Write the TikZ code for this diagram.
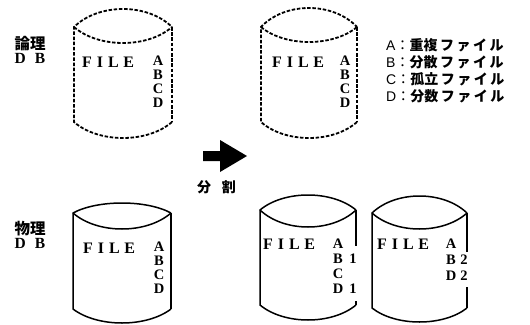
\documentclass[tikz,border=0pt]{standalone}
\usepackage{fontspec}
\setmainfont{Liberation Serif}
\newfontfamily\jpfont{Noto Sans CJK JP}
\newfontfamily\latinsans{Liberation Sans}

% Drum outline without its right-hand side:
% #1 style, #2 left x, #3 right x, #4 lid top y, #5 rim y,
% #6 lid dip y, #7 base rim y, #8 base dip y
\newcommand\drum[8]{%
  \draw[#1] (#3,#7)
     .. controls ({#3-0.25*(#3-#2)},{#7+4/3*(#8-#7)}) and ({#2+0.25*(#3-#2)},{#7+4/3*(#8-#7)}) .. (#2,#7)
     -- (#2,#5)
     .. controls ({#2+0.25*(#3-#2)},{#5-4/3*(#5-#4)}) and ({#3-0.25*(#3-#2)},{#5-4/3*(#5-#4)}) .. (#3,#5);
  \draw[#1] (#2,#5)
     .. controls ({#2+0.25*(#3-#2)},{#5+4/3*(#6-#5)}) and ({#3-0.25*(#3-#2)},{#5+4/3*(#6-#5)}) .. (#3,#5);
}
\newcommand\filename{F\hspace{5pt}I\hspace{5pt}L\hspace{4.5pt}E}

\begin{document}
\begin{tikzpicture}[x=1pt,y=-1pt,
  logical/.style={line width=1.8pt, dash pattern=on 3.5pt off 1.7pt},
  physical/.style={line width=1.5pt},
  filetag/.style={inner sep=0pt, anchor=west, font=\fontsize{16}{16}\selectfont\bfseries},
  slot/.style={inner sep=0pt, font=\fontsize{14.5}{14.5}\selectfont\bfseries},
  suffix/.style={inner sep=0pt, font=\fontsize{14.5}{14.5}\selectfont\bfseries},
  dbname/.style={inner sep=0pt, font=\jpfont\bfseries\fontsize{15.5}{16}\selectfont},
  dbtag/.style={inner sep=0pt, font=\fontsize{15.5}{15.5}\selectfont\bfseries},
  keyline/.style={inner sep=0pt, anchor=west, font=\jpfont\fontsize{14}{14}\selectfont},
]
\useasboundingbox (0,0) rectangle (530,324);

% ---------- logical database (top row) ----------
\node[dbname] (lname) at (30,43.5) {論理};
\node[dbtag]  (ldb)   at (30,58) {D\hspace{9pt}B};

\drum{logical}{74}{172}{9}{27}{43}{122}{138}
\draw[logical] (172,27) -- (172,122);
\node[filetag] (lfile) at (82,62) {\filename};
\node[slot] (la) at (158,61)  {A};
\node[slot] (lb) at (158,75)  {B};
\node[slot] (lc) at (158,89)  {C};
\node[slot] (ld) at (158,103) {D};

\drum{logical}{261}{357}{8}{27}{42}{122}{138}
\draw[logical] (357,27) -- (357,122);
\node[filetag] (rfile) at (272,62) {\filename};
\node[slot] (ra) at (345,61)  {A};
\node[slot] (rb) at (345,75)  {B};
\node[slot] (rc) at (345,89)  {C};
\node[slot] (rd) at (345,103) {D};

% legend
\node[keyline] (ka) at (386,45) {{\latinsans A}：{\bfseries 重複\hspace{2.5pt}フ\hspace{2.5pt}ァ\hspace{2.5pt}イ\hspace{2.5pt}ル}};
\node[keyline] (kb) at (386,62) {{\latinsans B}：{\bfseries 分散\hspace{2.5pt}フ\hspace{2.5pt}ァ\hspace{2.5pt}イ\hspace{2.5pt}ル}};
\node[keyline] (kc) at (386,79) {{\latinsans C}：{\bfseries 孤立\hspace{2.5pt}フ\hspace{2.5pt}ァ\hspace{2.5pt}イ\hspace{2.5pt}ル}};
\node[keyline] (kd) at (386,96) {{\latinsans D}：{\bfseries 分数\hspace{2.5pt}フ\hspace{2.5pt}ァ\hspace{2.5pt}イ\hspace{2.5pt}ル}};

% ---------- split arrow ----------
\fill (203,151) -- (220,151) -- (220,140) -- (247,156) -- (220,172)
      -- (220,161) -- (203,161) -- cycle;
\node[inner sep=0pt, font=\jpfont\bfseries\fontsize{14}{14}\selectfont] (split) at (216.5,187) {分\hspace{11pt}割};

% ---------- physical database (bottom row) ----------
\node[dbname] (pname) at (30,229) {物理};
\node[dbtag]  (pdb)   at (30,243.5) {D\hspace{9pt}B};

\drum{physical}{73}{171}{203}{213}{229}{309}{323}
\draw[physical] (171,213) -- (171,309);
\node[filetag] (pfile) at (83,248) {\filename};
\node[slot] (pa) at (159,247) {A};
\node[slot] (pb) at (159,261) {B};
\node[slot] (pc) at (159,275) {C};
\node[slot] (pd) at (159,289) {D};

% first part
\drum{physical}{260}{356}{195}{210}{227}{305}{320}
\draw[physical] (356,210) -- (356,246);
\draw[physical] (356,301) -- (356,305);
\node[filetag] (sfile) at (263,244) {\filename};
\node[slot] (sa) at (338,244) {A};
\node[slot] (sb) at (338,259) {B};
\node[suffix] (sb1) at (353,259) {1};
\node[slot] (sc) at (338,274) {C};
\node[slot] (sd) at (338,289) {D};
\node[suffix] (sd1) at (353,289) {1};

% second part
\drum{physical}{372}{467}{196}{213}{229}{308}{322}
\draw[physical] (467,213) -- (467,252);
\draw[physical] (467,287) -- (467,308);
\node[filetag] (tfile) at (377,244) {\filename};
\node[slot] (ta) at (451,244) {A};
\node[slot] (tb) at (451,260) {B};
\node[suffix] (tb2) at (464,260) {2};
\node[slot] (td) at (451,276) {D};
\node[suffix] (td2) at (464,276) {2};
\end{tikzpicture}
\end{document}
